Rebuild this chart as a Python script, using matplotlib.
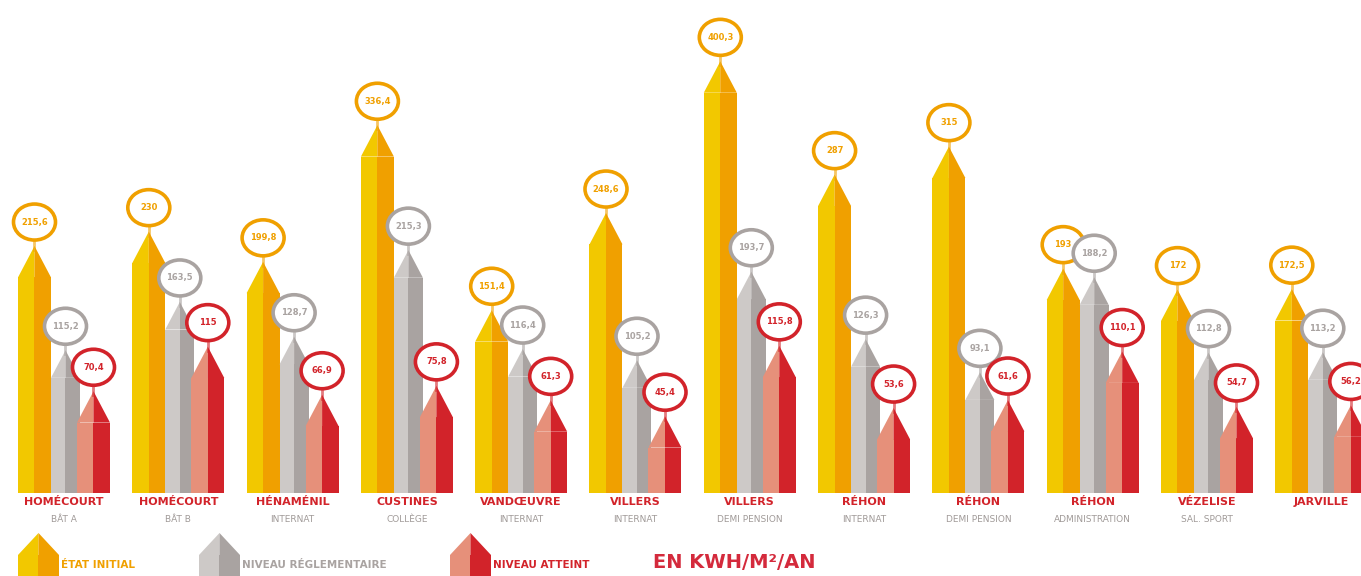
import numpy as np
import matplotlib
matplotlib.use("Agg")
import matplotlib.pyplot as plt
from matplotlib.patches import Ellipse
from matplotlib import font_manager

# kWh/m2/an : etat initial, niveau reglementaire, niveau atteint
sites = ["HOMÉCOURT", "HOMÉCOURT", "HÉNAMÉNIL", "CUSTINES", "VANDŒUVRE", "VILLERS",
         "VILLERS", "RÉHON", "RÉHON", "RÉHON", "VÉZELISE", "JARVILLE"]
batiments = ["BÂT A", "BÂT B", "INTERNAT", "COLLÈGE", "INTERNAT", "INTERNAT",
             "DEMI PENSION", "INTERNAT", "DEMI PENSION", "ADMINISTRATION", "SAL. SPORT", ""]
initial = [215.6, 230, 199.8, 336.4, 151.4, 248.6, 400.3, 287, 315, 193, 172, 172.5]
reglementaire = [115.2, 163.5, 128.7, 215.3, 116.4, 105.2, 193.7, 126.3, 93.1, 188.2, 112.8, 113.2]
atteint = [70.4, 115, 66.9, 75.8, 61.3, 45.4, 115.8, 53.6, 61.6, 110.1, 54.7, 56.2]

names = {f.name for f in font_manager.fontManager.ttflist}
FONT = "Liberation Sans Narrow" if "Liberation Sans Narrow" in names else "DejaVu Sans"

# (clair, fonce) pour chaque serie
series = [
    (initial, "#F2C800", "#F0A000", 0, 33),
    (reglementaire, "#CDC9C7", "#A9A3A1", 33, 29),
    (atteint, "#E6907A", "#D2232A", 59, 33),
]


def crayon(ax, x0, base, h, w, clair, fonce, pointe=None, z=2):
    # corps en deux moities + pointe
    ax.bar(x0, h, width=w / 2, bottom=base, align="edge", color=clair, zorder=z)
    ax.bar(x0 + w / 2, h, width=w / 2, bottom=base, align="edge", color=fonce, zorder=z)
    top = base + h
    if pointe is None:
        pointe = w * 0.95
    ax.fill([x0, x0 + w / 2, x0 + w / 2], [top, top + pointe, top], color=clair, lw=0, zorder=z)
    ax.fill([x0 + w / 2, x0 + w, x0 + w / 2], [top, top, top + pointe], color=fonce, lw=0, zorder=z)
    return top + pointe


fig = plt.figure(figsize=(13.61, 5.76), dpi=100)
ax = fig.add_axes([0, 0, 1, 1])
ax.set_xlim(0, 1361)
ax.set_ylim(-83, 493)
ax.axis("off")

x = 18 + np.arange(len(sites)) * 114.3

for i in range(len(sites)):
    for vals, clair, fonce, off, w in series:
        xc = x[i] + off + w / 2
        apex = crayon(ax, x[i] + off, 0, vals[i], w, clair, fonce)
        cy = apex + 24
        ax.plot([xc, xc], [apex - 4, cy - 17], color=fonce, lw=2, alpha=0.6, zorder=3)
        ax.add_patch(Ellipse((xc, cy), 42, 36, facecolor="white", edgecolor=fonce, lw=2.6, zorder=4))
        ax.text(xc, cy, f"{vals[i]:g}".replace(".", ","), ha="center", va="center",
                fontsize=6, fontweight="bold", color=fonce, family=FONT, zorder=5)
    gc = x[i] + 46
    ax.text(gc, -9, sites[i], ha="center", va="center", fontsize=8, fontweight="bold",
            color="#D2232A", family=FONT)
    ax.text(gc, -27, batiments[i], ha="center", va="center", fontsize=6.5,
            color="#A09A98", family=FONT)

# legende
legende = [("ÉTAT INITIAL", 18, 0), ("NIVEAU RÉGLEMENTAIRE", 199, 1), ("NIVEAU ATTEINT", 450, 2)]
for txt, lx, k in legende:
    _, clair, fonce, _, _ = series[k]
    crayon(ax, lx, -90, 28, 41, clair, fonce, pointe=22)
    ax.text(lx + 43, -72, txt, ha="left", va="center", fontsize=7.5, fontweight="bold",
            color=fonce, family=FONT)

ax.text(653, -70, "EN KWH/M²/AN", ha="left", va="center", fontsize=14, fontweight="bold",
        color="#D42A3C", family=FONT)

fig.savefig("out.png", dpi=100)
